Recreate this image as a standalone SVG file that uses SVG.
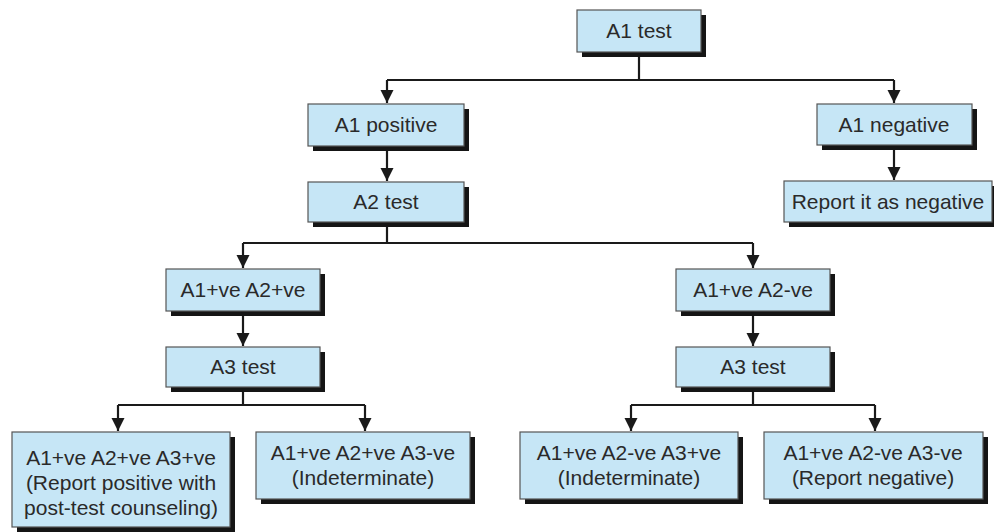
<svg xmlns="http://www.w3.org/2000/svg" width="994" height="532" viewBox="0 0 994 532">
<defs>
<style>
.sh{fill:#151515}
.bx{fill:#c6e6f6;stroke:#555;stroke-width:1.2}
.t{font-family:"Liberation Sans",Arial,sans-serif;font-size:21px;fill:#2a2a2a;text-anchor:middle}
.c{fill:none;stroke:#1a1a1a;stroke-width:2.2}
</style>
<marker id="ah" viewBox="0 0 10 10" refX="10" refY="5" markerWidth="6" markerHeight="6" orient="auto" markerUnits="strokeWidth">
<path d="M0,0 L10,5 L0,10 z" fill="#1a1a1a"/>
</marker>
</defs>
<rect width="994" height="532" fill="#fff"/>
<g id="connectors">
<path class="c" d="M639,52 V80"/>
<path class="c" d="M387,80 H894"/>
<path class="c" d="M387,80 V103" marker-end="url(#ah)"/>
<path class="c" d="M894,80 V103" marker-end="url(#ah)"/>
<path class="c" d="M387,150 V181" marker-end="url(#ah)"/>
<path class="c" d="M894,150 V180" marker-end="url(#ah)"/>
<path class="c" d="M387,226 V243"/>
<path class="c" d="M243,243 H753"/>
<path class="c" d="M243,243 V268" marker-end="url(#ah)"/>
<path class="c" d="M753,243 V268" marker-end="url(#ah)"/>
<path class="c" d="M243,315 V346" marker-end="url(#ah)"/>
<path class="c" d="M753,315 V346" marker-end="url(#ah)"/>
<path class="c" d="M243,391 V405"/>
<path class="c" d="M118,405 H365"/>
<path class="c" d="M118,405 V431" marker-end="url(#ah)"/>
<path class="c" d="M365,405 V431" marker-end="url(#ah)"/>
<path class="c" d="M753,391 V405"/>
<path class="c" d="M631,405 H875"/>
<path class="c" d="M631,405 V431" marker-end="url(#ah)"/>
<path class="c" d="M875,405 V431" marker-end="url(#ah)"/>
</g>
<g id="a1test">
<rect class="sh" x="582" y="15" width="124" height="42"/>
<rect class="bx" x="577" y="10" width="124" height="42"/>
<text class="t" x="639" y="38">A1 test</text>
</g>
<g id="a1pos">
<rect class="sh" x="313" y="109" width="156" height="42"/>
<rect class="bx" x="308" y="104" width="156" height="42"/>
<text class="t" x="386" y="132">A1 positive</text>
</g>
<g id="a1neg">
<rect class="sh" x="822" y="109" width="155" height="41"/>
<rect class="bx" x="817" y="104" width="155" height="41"/>
<text class="t" x="894" y="132">A1 negative</text>
</g>
<g id="report">
<rect class="sh" x="789" y="186" width="210" height="41"/>
<rect class="bx" x="784" y="181" width="208" height="41"/>
<text class="t" x="888" y="209">Report it as negative</text>
</g>
<g id="a2test">
<rect class="sh" x="313" y="187" width="156" height="40"/>
<rect class="bx" x="308" y="182" width="156" height="40"/>
<text class="t" x="386" y="209">A2 test</text>
</g>
<g id="pp">
<rect class="sh" x="171" y="274" width="154" height="42"/>
<rect class="bx" x="166" y="269" width="154" height="42"/>
<text class="t" x="243" y="297">A1+ve A2+ve</text>
</g>
<g id="pn">
<rect class="sh" x="681" y="274" width="154" height="42"/>
<rect class="bx" x="676" y="269" width="154" height="42"/>
<text class="t" x="753" y="297">A1+ve A2-ve</text>
</g>
<g id="a3left">
<rect class="sh" x="171" y="352" width="154" height="40"/>
<rect class="bx" x="166" y="347" width="154" height="40"/>
<text class="t" x="243" y="374">A3 test</text>
</g>
<g id="a3right">
<rect class="sh" x="681" y="352" width="154" height="40"/>
<rect class="bx" x="676" y="347" width="154" height="40"/>
<text class="t" x="753" y="374">A3 test</text>
</g>
<g id="ppp">
<rect class="sh" x="17" y="437" width="218" height="95"/>
<rect class="bx" x="12" y="432" width="218" height="95"/>
<text class="t" x="121" y="465">A1+ve A2+ve A3+ve</text>
<text class="t" x="121" y="490">(Report positive with</text>
<text class="t" x="121" y="515">post-test counseling)</text>
</g>
<g id="ppn">
<rect class="sh" x="261" y="437" width="214" height="67"/>
<rect class="bx" x="256" y="432" width="214" height="67"/>
<text class="t" x="363" y="460">A1+ve A2+ve A3-ve</text>
<text class="t" x="363" y="485">(Indeterminate)</text>
</g>
<g id="pnp">
<rect class="sh" x="525" y="437" width="218" height="67"/>
<rect class="bx" x="520" y="432" width="218" height="67"/>
<text class="t" x="629" y="460">A1+ve A2-ve A3+ve</text>
<text class="t" x="629" y="485">(Indeterminate)</text>
</g>
<g id="pnn">
<rect class="sh" x="769" y="437" width="219" height="67"/>
<rect class="bx" x="764" y="432" width="219" height="67"/>
<text class="t" x="873" y="460">A1+ve A2-ve A3-ve</text>
<text class="t" x="873" y="485">(Report negative)</text>
</g>
</svg>
